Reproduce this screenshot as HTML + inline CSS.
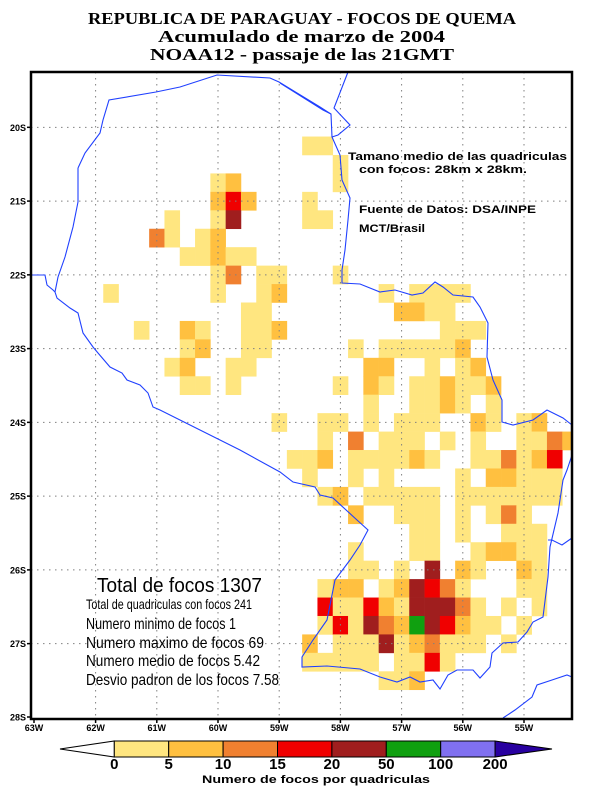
<!DOCTYPE html>
<html>
<head>
<meta charset="utf-8">
<style>
  html,body{margin:0;padding:0;background:#fff;}
  svg{display:block;}
  .tk{font-family:"Liberation Sans",sans-serif;font-weight:bold;font-size:9px;fill:#000;}
</style>
</head>
<body>
<svg id="chart" width="612" height="792" viewBox="0 0 612 792" xmlns="http://www.w3.org/2000/svg">
  <rect x="0" y="0" width="612" height="792" fill="#fff"/>
  <g font-family="Liberation Serif, serif" font-weight="bold" font-size="17" fill="#000">
    <text x="88" y="24" textLength="428" lengthAdjust="spacingAndGlyphs">REPUBLICA DE PARAGUAY - FOCOS DE QUEMA</text>
    <text x="158" y="42" textLength="287" lengthAdjust="spacingAndGlyphs">Acumulado de marzo de 2004</text>
    <text x="150" y="60" textLength="304" lengthAdjust="spacingAndGlyphs">NOAA12 - passaje de las 21GMT</text>
  </g>
  <g id="cells"></g>
  <g id="grid"></g>
  <g id="borders" fill="none" stroke="#2040ff" stroke-width="1.1"></g>
  <rect x="31" y="72" width="541" height="647" fill="none" stroke="#000" stroke-width="2.5"/>
  <g id="ticks"></g>

  <g font-family="Liberation Sans, sans-serif" font-weight="bold" font-size="11" fill="#000">
    <text x="348" y="160" textLength="219" lengthAdjust="spacingAndGlyphs">Tamano medio de las quadriculas</text>
    <text x="359" y="173" textLength="168" lengthAdjust="spacingAndGlyphs">con focos: 28km x 28km.</text>
    <text x="359" y="213" textLength="177" lengthAdjust="spacingAndGlyphs">Fuente de Datos: DSA/INPE</text>
    <text x="359" y="232" textLength="66" lengthAdjust="spacingAndGlyphs">MCT/Brasil</text>
  </g>

  <g font-family="Liberation Sans, sans-serif" fill="#000">
    <text x="97" y="592" font-size="20" textLength="165" lengthAdjust="spacingAndGlyphs">Total de focos 1307</text>
    <text x="86" y="609" font-size="14" textLength="166" lengthAdjust="spacingAndGlyphs">Total de quadriculas con focos 241</text>
    <text x="86" y="629" font-size="16" textLength="150" lengthAdjust="spacingAndGlyphs">Numero minimo de focos 1</text>
    <text x="86" y="648" font-size="16" textLength="178" lengthAdjust="spacingAndGlyphs">Numero maximo de focos 69</text>
    <text x="86" y="666" font-size="16" textLength="174" lengthAdjust="spacingAndGlyphs">Numero medio de focos 5.42</text>
    <text x="86" y="685" font-size="16" textLength="193" lengthAdjust="spacingAndGlyphs">Desvio padron de los focos 7.58</text>
  </g>

  <g id="colorbar"></g>
  <text x="202" y="783" font-family="Liberation Sans, sans-serif" font-weight="bold" font-size="11" textLength="228" lengthAdjust="spacingAndGlyphs">Numero de focos por quadriculas</text>
</svg>
<script>
// ---- data ----
// colour levels: 1:0-5 2:5-10 3:10-15 4:15-20 5:20-50 6:50-100 7:100-200 8:>200
const runRows = [4,5,6,6,7,7,8,8,8,9,9,10,11,11,11,12,12,12,12,12,13,13,14,14,14,14,15,15,15,15,16,16,16,16,16,17,17,17,17,17,18,18,18,19,19,19,19,19,19,20,20,20,20,20,20,21,21,21,22,22,22,22,22,23,23,23,24,24,24,24,25,25,25,26,26,26,27,27,27,27,27,28,28,28,29,29,29,30,30,31,31,31,32,32,33];
const runCols = [18,20,12,20,12,18,9,12,18,8,11,10,12,15,20,5,12,15,23,25,14,24,7,10,14,27,10,14,21,23,9,13,22,26,28,10,13,20,22,25,22,25,30,16,19,22,24,29,32,19,21,23,27,29,32,17,21,29,18,21,23,28,30,19,22,28,21,24,28,30,25,28,31,21,25,29,21,24,26,28,32,19,23,32,19,31,33,19,32,18,20,31,18,24,23];
const runLevels = ["11","1","12","1","242","1","1","15","11","31","12","11211","13","11","1","1","1","12","1","1111","11","2211","1","21","112","111","12","11","1","111112","12","11","22","1","12","11","1","1","21","112112","1","1121","1","1","11","1","111","21","12","1","3","111","1","1","1132","112","111121","113124","1","1","1","1","22111","12","11111","1111111","2","111","1","131","11","1","111","1","11","12211","11","1","5","21","21","122","125431","11","41142155531","1","1","141532654211","1","2","1115123111","1","11111","1141","112"];
const binColors = ["#ffe680","#ffc040","#f08030","#f00000","#a01e1e","#10a010","#8070f0","#2800a0"];
const binLabels = ["0","5","10","15","20","50","100","200"];
const latTicks = [20,21,22,23,24,25,26,27,28];
const lonTicks = [63,62,61,60,59,58,57,56,55];

// ---- axes ----
const CELL = 0.25;
function xOf(lonW){ return 34.4 + (63 - lonW) * 61.2; }
function yOf(latS){ return 72 + (latS - 19.25) * 73.76; }
function colLon(c){ return 63 - c * CELL; }
function rowLat(r){ return 19.25 + r * CELL; }
const NS = "http://www.w3.org/2000/svg";
function mk(tag, attrs, parent){
  const e = document.createElementNS(NS, tag);
  for (const k in attrs) e.setAttribute(k, attrs[k]);
  parent.appendChild(e);
  return e;
}

// ---- cells ----
const cellsG = document.getElementById('cells');
for (let i = 0; i < runRows.length; i++) {
  const lev = runLevels[i];
  for (let k = 0; k < lev.length; k++) {
    const v = +lev[k];
    if (!v) continue;
    const lon = colLon(runCols[i] + k), lat = rowLat(runRows[i]);
    const x0 = xOf(lon + CELL/2), x1 = Math.min(xOf(lon - CELL/2), 572);
    const y0 = yOf(lat - CELL/2), y1 = yOf(lat + CELL/2);
    const r = mk('rect', {x:x0.toFixed(2), y:y0.toFixed(2), width:(x1-x0+0.3).toFixed(2), height:(y1-y0+0.3).toFixed(2), fill:binColors[v-1]}, cellsG);
    
    
  }
}

// ---- grid ----
const gridG = document.getElementById('grid');
lonTicks.slice(1).forEach(l => {
  const ln = mk('line', {x1:xOf(l), x2:xOf(l), y1:72, y2:719, stroke:'#808080', 'stroke-width':1, 'stroke-dasharray':'1.5,4.5'}, gridG);
  
  
});
latTicks.slice(0, -1).forEach(l => {
  const ln = mk('line', {x1:31, x2:572, y1:yOf(l), y2:yOf(l), stroke:'#808080', 'stroke-width':1, 'stroke-dasharray':'1.5,4.5'}, gridG);
  
  
});

// ---- borders ----
const bordersG = document.getElementById('borders');
const borderPaths = [
  [[78,168],[85,153],[100,133],[103,120],[109,100],[156,92],[180,87],[217,75],[270,78],[279,82],[320,107],[331,114],[332,137],[340,155],[342,180],[350,198],[348,220],[345,250],[342,270],[342,283],[360,284],[380,292],[395,290],[412,295],[423,293],[435,282],[443,287],[453,295],[473,297],[480,307],[488,323],[487,357],[493,380],[502,400],[502,422],[513,425],[533,420],[547,410],[563,418],[572,425]],
  [[348,72],[334,108],[350,125],[338,135],[332,137]],
  [[280,83],[323,110],[331,114]],
  [[78,168],[78,202],[73,227],[65,257],[58,277],[55,292],[57,298],[70,308],[78,313],[83,333],[93,347],[98,353],[110,367],[122,373],[127,380],[140,385],[148,393],[153,407],[160,410],[200,430],[240,450],[280,472],[293,482],[315,487],[320,495],[333,498],[357,520],[368,530],[360,545],[350,560],[335,580],[327,620],[313,640],[302,657],[302,667],[327,666],[360,669],[380,677],[397,682],[410,677],[420,682],[433,680],[440,689],[448,675],[457,670],[473,670],[480,678],[490,667],[492,653],[503,643],[518,642],[527,632],[533,622],[543,617],[548,577],[550,547],[558,513],[563,480],[567,470],[572,455]],
  [[31,275],[45,275],[47,285],[53,290],[55,292]],
  [[548,540],[552,540],[562,545],[572,538]],
  [[503,718],[515,710],[532,697],[537,685],[552,680],[567,675],[572,677]]
];
borderPaths.forEach(p => {
  const pl = mk('polyline', {points:p.map(q => q.join(',')).join(' ')}, bordersG);
  
  
});

// ---- ticks ----
const ticksG = document.getElementById('ticks');
latTicks.forEach(l => {
  const y = Math.min(yOf(l), 717);
  mk('line', {x1:27, x2:31, y1:y, y2:y, stroke:'#000', 'stroke-width':1.5}, ticksG);
  const t = mk('text', {x:26, y:y+3.5, 'text-anchor':'end', class:'tk'}, ticksG);
  t.textContent = l + 'S';
  
  
});
lonTicks.forEach(l => {
  const x = l === 63 ? 34 : xOf(l);
  mk('line', {x1:x, x2:x, y1:719, y2:723, stroke:'#000', 'stroke-width':1.5}, ticksG);
  const t = mk('text', {x:x, y:731, 'text-anchor':'middle', class:'tk'}, ticksG);
  t.textContent = l + 'W';
  
  
});

// ---- colorbar ----
const cb = document.getElementById('colorbar');
const bx0 = 114.3, bw = 54.4, by = 741, bh = 16;
const lt = mk('polygon', {points:`60,749 ${bx0},${by} ${bx0},${by+bh}`, fill:'#fff', stroke:'#000', 'stroke-width':1}, cb);


for (let i = 0; i < 7; i++) {
  const r = mk('rect', {x:bx0 + i*bw, y:by, width:bw, height:bh, fill:binColors[i], stroke:'#000', 'stroke-width':1}, cb);
  
  
}
const xe = bx0 + 7*bw;
const rt = mk('polygon', {points:`${xe},${by} 552,749 ${xe},${by+bh}`, fill:binColors[7], stroke:'#000', 'stroke-width':1}, cb);


binLabels.forEach((s, i) => {
  const t = mk('text', {x:bx0 + i*bw, y:769, 'text-anchor':'middle', 'font-family':'Liberation Sans, sans-serif', 'font-weight':'bold', 'font-size':15}, cb);
  t.textContent = s;
  
  
});
</script>
</body>
</html>
